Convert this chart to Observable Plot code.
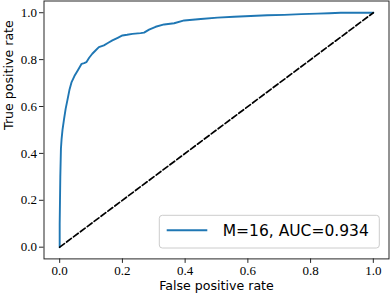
<!DOCTYPE html>
<html><head><meta charset="utf-8">
<script src="https://cdn.jsdelivr.net/npm/d3@7"></script>
<script src="https://cdn.jsdelivr.net/npm/@observablehq/plot@0.6"></script>
<style>body{margin:0;background:#fff}#chart{width:390px;height:295px}</style>
</head><body><div id="chart"></div>
<script>
// ROC curve
const fpr = [0, 0, 0.001, 0.002, 0.004, 0.006, 0.009, 0.0138, 0.019, 0.0245, 0.031, 0.038, 0.047, 0.058, 0.070, 0.078, 0.085, 0.094, 0.104, 0.115, 0.125, 0.141, 0.155, 0.168, 0.185, 0.2, 0.215, 0.232, 0.258, 0.269, 0.285, 0.306, 0.333, 0.365, 0.397, 0.45, 0.503, 0.556, 0.609, 0.662, 0.716, 0.77, 0.822, 0.86, 0.896, 0.95, 1];
const tpr = [0, 0.1, 0.2, 0.3, 0.42, 0.46, 0.5, 0.545, 0.59, 0.626, 0.67, 0.704, 0.73, 0.755, 0.782, 0.785, 0.789, 0.808, 0.825, 0.84, 0.853, 0.861, 0.872, 0.882, 0.893, 0.903, 0.906, 0.910, 0.913, 0.915, 0.928, 0.940, 0.950, 0.955, 0.967, 0.973, 0.979, 0.983, 0.986, 0.989, 0.991, 0.994, 0.996, 0.998, 1.0, 1.0, 1.0];
// chance diagonal
const chanceX = [0, 1];
const chanceY = [0, 1];
const tickValues = [0, 0.2, 0.4, 0.6, 0.8, 1.0];
const xDomain = [-0.05, 1.05];
const yDomain = [-0.05, 1.05];
const legendLabel = "M=16, AUC=0.934";
const xLabel = "False positive rate";
const yLabel = "True positive rate";

const roc = fpr.map((x, i) => ({x, y: tpr[i]}));
const chance = chanceX.map((x, i) => ({x, y: chanceY[i]}));

const blue = "#1f77b4";
const axisColor = "#262626";
const serif = "'Liberation Serif', 'DejaVu Serif', serif";
const sans = "'DejaVu Sans', sans-serif";

function legend(index, scales, values, dimensions) {
  const {width, height, marginRight, marginBottom} = dimensions;
  const w = 220, h = 32.7;
  const right = width - marginRight - 9.2, bottom = height - marginBottom - 10.4;
  const g = d3.create("svg:g").attr("transform", `translate(${right - w},${bottom - h})`);
  g.append("rect").attr("width", w).attr("height", h).attr("rx", 3)
    .attr("fill", "white").attr("fill-opacity", 0.8).attr("stroke", "#cccccc").attr("stroke-width", 1);
  g.append("line").attr("x1", 7.4).attr("x2", 48).attr("y1", 15).attr("y2", 15)
    .attr("stroke", blue).attr("stroke-width", 1.9);
  g.append("text").attr("x", 63.4).attr("y", 21).attr("text-anchor", "start")
    .attr("font-family", sans).attr("font-size", 15.5)
    .attr("fill", "black").text(legendLabel);
  return g.node();
}

const chart = Plot.plot({
  width: 390,
  height: 295,
  marginLeft: 43.5,
  marginRight: 1.5,
  marginTop: 0.5,
  marginBottom: 36.6,
  style: {fontFamily: serif, fontSize: "13px", background: "white", color: "black"},
  x: {domain: xDomain},
  y: {domain: yDomain},
  marks: [
    Plot.line(roc, {x: "x", y: "y", stroke: blue, strokeWidth: 1.9}),
    Plot.line(chance, {x: "x", y: "y", stroke: "black", strokeWidth: 1.7, strokeDasharray: "6,2.6"}),
    Plot.frame({stroke: axisColor, strokeWidth: 1}),
    Plot.axisX(tickValues, {tickSize: 4.5, tickPadding: 2.6, tickFormat: d3.format(".1f"), label: null, stroke: axisColor, fontFamily: serif, fontSize: 13}),
    Plot.axisY(tickValues, {tickSize: 4.5, tickPadding: 2.5, tickFormat: d3.format(".1f"), label: null, stroke: axisColor, fontFamily: serif, fontSize: 13}),
    Plot.text([xLabel], {text: d => d, frameAnchor: "bottom", dy: 31, fontFamily: sans, fontSize: 12.6, fill: "black"}),
    Plot.text([yLabel], {text: d => d, frameAnchor: "left", rotate: -90, dx: -35.5, fontFamily: sans, fontSize: 12.6, fill: "black"}),
    legend
  ]
});
document.getElementById("chart").appendChild(chart);
</script>
</body></html>
